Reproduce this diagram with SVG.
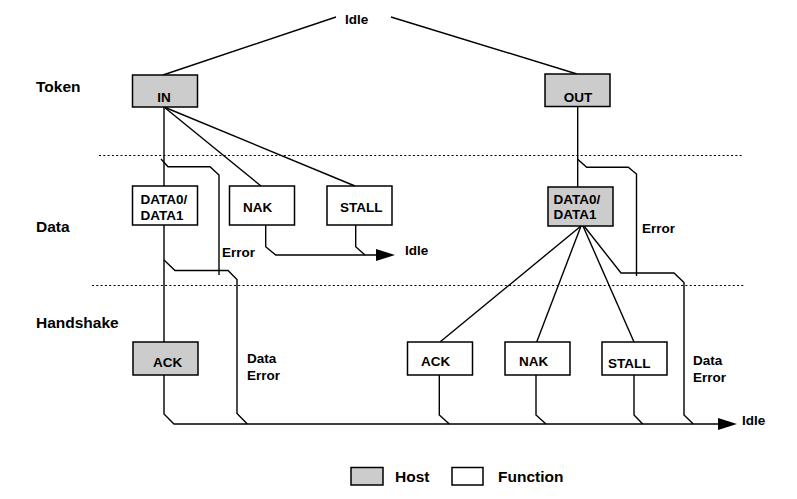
<svg xmlns="http://www.w3.org/2000/svg" width="797" height="499" viewBox="0 0 797 499">
<defs>
<style>
.t{font-family:"Liberation Sans",Arial,sans-serif;font-weight:bold;font-size:13.5px;fill:#000}
.lab{font-family:"Liberation Sans",Arial,sans-serif;font-weight:bold;font-size:15.5px;fill:#000}
.host{fill:#cccccc;stroke:#000;stroke-width:1.5}
.fn{fill:#fff;stroke:#000;stroke-width:1.5}
.ln{fill:none;stroke:#000;stroke-width:1.4}
.dot{fill:none;stroke:#000;stroke-width:1;stroke-dasharray:2 2.3}
</style>
<marker id="arr" markerWidth="20" markerHeight="16" refX="0" refY="8" orient="auto" markerUnits="userSpaceOnUse">
<path d="M0,2 L19,8 L0,14 Z" fill="#000"/>
</marker>
</defs>
<rect width="797" height="499" fill="#fff"/>

<g id="phases">
<line class="dot" x1="99" y1="155.5" x2="743" y2="155.5"/>
<line class="dot" x1="92" y1="285.5" x2="745" y2="285.5"/>
<text class="lab" x="36" y="92">Token</text>
<text class="lab" x="36" y="232">Data</text>
<text class="lab" x="36" y="328">Handshake</text>
</g>

<g id="connectors">
<polyline class="ln" points="163,75 336,17"/>
<polyline class="ln" points="391,17 577,74"/>
<line class="ln" x1="164" y1="107" x2="164" y2="186"/>
<line class="ln" x1="164" y1="107" x2="261" y2="186"/>
<line class="ln" x1="164" y1="107" x2="355" y2="186"/>
<polyline class="ln" points="161,159 168,166.7 210,166.7 219,175 219,275"/>
<polyline class="ln" points="265.7,225 265.7,246.7 275.7,255 376,255" marker-end="url(#arr)"/>
<polyline class="ln" points="355.7,225 355.7,246.7 365,255"/>
<line class="ln" x1="164" y1="225" x2="164" y2="342"/>
<polyline class="ln" points="164,260 175,270.5 228,270.5 237,279.5 237,413.5 247.3,424"/>
<polyline class="ln" points="164,375 164,414 174,424 718,424" marker-end="url(#arr)"/>
<line class="ln" x1="577.7" y1="106.7" x2="577.7" y2="187"/>
<polyline class="ln" points="577.7,159.3 586.7,167.3 628.3,167.3 636.5,174 636.5,276"/>
<line class="ln" x1="581" y1="226" x2="440" y2="342"/>
<line class="ln" x1="581" y1="226" x2="536.7" y2="342"/>
<line class="ln" x1="583" y1="226" x2="634" y2="342"/>
<polyline class="ln" points="584,226 621,273 674,273 684,282.5 684,415 693.3,424"/>
<polyline class="ln" points="439.3,375 439.3,415 449.3,424"/>
<polyline class="ln" points="536,375 536,415 546,424"/>
<polyline class="ln" points="634,373 634,415 642.7,424"/>
<text class="t" x="345" y="24">Idle</text>
<text class="t" x="405" y="255">Idle</text>
<text class="t" x="742" y="425">Idle</text>
<text class="t" x="222" y="257">Error</text>
<text class="t" x="642" y="233">Error</text>
<text class="t" x="247" y="363">Data</text>
<text class="t" x="247" y="380">Error</text>
<text class="t" x="693" y="365">Data</text>
<text class="t" x="693" y="382">Error</text>
</g>

<g id="in">
<rect class="host" x="132.5" y="75" width="65" height="32"/>
<text class="t" x="164" y="102" text-anchor="middle">IN</text>
</g>
<g id="out">
<rect class="host" x="545" y="74" width="65" height="32.5"/>
<text class="t" x="578" y="102" text-anchor="middle">OUT</text>
</g>
<g id="data-in">
<rect class="fn" x="132.5" y="186" width="65" height="39"/>
<text class="t" x="140.5" y="204">DATA0/</text>
<text class="t" x="140.5" y="219.5">DATA1</text>
</g>
<g id="nak-in">
<rect class="fn" x="229.5" y="186" width="65" height="39"/>
<text class="t" x="243" y="212">NAK</text>
</g>
<g id="stall-in">
<rect class="fn" x="327" y="186" width="65" height="39"/>
<text class="t" x="340" y="212">STALL</text>
</g>
<g id="data-out">
<rect class="host" x="548" y="187" width="65" height="39"/>
<text class="t" x="553.5" y="204">DATA0/</text>
<text class="t" x="553.5" y="218.5">DATA1</text>
</g>
<g id="ack-in">
<rect class="host" x="133" y="342" width="65" height="33"/>
<text class="t" x="153" y="367">ACK</text>
</g>
<g id="ack-out">
<rect class="fn" x="407.5" y="342" width="65" height="33"/>
<text class="t" x="421" y="366">ACK</text>
</g>
<g id="nak-out">
<rect class="fn" x="505" y="342" width="65" height="33"/>
<text class="t" x="519" y="366">NAK</text>
</g>
<g id="stall-out">
<rect class="fn" x="602" y="342" width="65" height="33"/>
<text class="t" x="608" y="368">STALL</text>
</g>

<g id="legend">
<rect class="host" x="351" y="467.5" width="32" height="17.5"/>
<text class="lab" x="395" y="482">Host</text>
<rect class="fn" x="452" y="467.5" width="31" height="17.5"/>
<text class="lab" x="498" y="482">Function</text>
</g>
</svg>
